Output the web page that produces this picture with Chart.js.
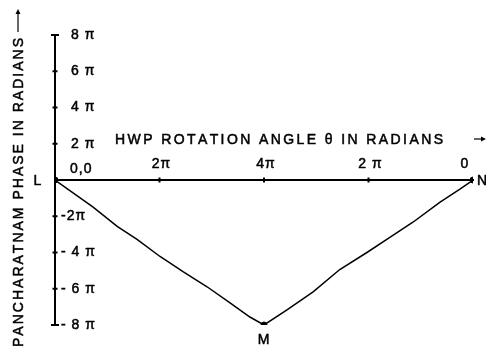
<!DOCTYPE html>
<html>
<head>
<meta charset="utf-8">
<script src="https://cdn.jsdelivr.net/npm/chart.js@4/dist/chart.umd.min.js"></script>
<style>
  html, body { margin: 0; padding: 0; background: #fff; }
  #wrap { width: 486px; height: 351px; }
</style>
</head>
<body>
<div id="wrap"><canvas id="myChart" width="486" height="351"></canvas></div>
<script>
// rotation angle and phase, both in units of pi
const theta = [0, 0.73, 1.19, 1.57, 2.01, 2.45, 2.91, 3.35, 3.73, 4, 4.44, 4.94, 5.45, 5.97, 6.35, 6.85, 7.37, 7.75, 8];
const phase = [0, -1.5, -2.56, -3.28, -4.22, -5.06, -5.89, -6.78, -7.56, -8, -7.17, -6.17, -4.94, -4.0, -3.28, -2.33, -1.22, -0.5, 0];

// named points on the curve
const pointNames = ['L', 'M', 'N'];
const pointTheta = [0, 4, 8];
const pointPhase = [0, -8, 0];

const yTickValues = [8, 6, 4, 2, -2, -4, -6, -8];
const yTickLabels = ['8 π', '6 π', '4 π', '2 π', '-2π', '- 4 π', '- 6 π', '- 8 π'];
const xTickValues = [2, 4, 6, 8];
const xTickLabels = ['2π', '4π', '2 π', '0'];

const xTitle = 'HWP ROTATION ANGLE θ IN RADIANS';
const yTitle = 'PANCHARATNAM PHASE IN RADIANS';

const FONT = '"Liberation Sans", Arial, sans-serif';

// fill plus a thin stroke so the lettering looks a little heavier
const heavyText = (ctx, text, x, y) => {
    ctx.fillText(text, x, y);
    ctx.strokeText(text, x, y);
}

// draw a string stretched over a given width by spreading the letters
const spacedText = (ctx, text, x0, x1, y) => {
    const widths = [...text].map(c => ctx.measureText(c).width);
    const total = widths.reduce((a, b) => a + b, 0);
    const gap = (x1 - x0 - total) / (text.length - 1);
    let x = x0;
    [...text].forEach((c, i) => {
        heavyText(ctx, c, x, y);
        x += widths[i] + gap;
    });
}

const axisDecor = {
    id: 'axisDecor',
    afterDraw(chart) {
        const ctx = chart.ctx;
        const xs = chart.scales.x;
        const ys = chart.scales.y;
        const x0 = xs.getPixelForValue(0);
        const y0 = ys.getPixelForValue(0);
        ctx.save();
        ctx.strokeStyle = '#000';
        ctx.fillStyle = '#000';
        ctx.lineWidth = 2;

        // tick crosses on the vertical axis
        ctx.beginPath();
        yTickValues.forEach(v => {
            const py = ys.getPixelForValue(v);
            const half = Math.abs(v) === 8 ? 4 : 2.5;
            ctx.moveTo(x0 - half, py);
            ctx.lineTo(x0 + half, py);
        });
        // tick crosses on the horizontal axis
        xTickValues.slice(0, 3).forEach(v => {
            const px = xs.getPixelForValue(v);
            ctx.moveTo(px, y0 - 2.5);
            ctx.lineTo(px, y0 + 2.5);
        });
        ctx.stroke();

        ctx.lineWidth = 0.5;
        ctx.font = '14px ' + FONT;
        ctx.textBaseline = 'middle';
        ctx.letterSpacing = '1px';
        ctx.textAlign = 'left';
        yTickValues.forEach((v, i) => {
            const py = ys.getPixelForValue(v);
            heavyText(ctx, yTickLabels[i], x0 + (v > 0 ? 16 : 6), py);
        });
        heavyText(ctx, '0,0', x0 + 15, y0 - 11);

        ctx.textAlign = 'center';
        xTickValues.forEach((v, i) => {
            const px = xs.getPixelForValue(v);
            heavyText(ctx, xTickLabels[i], px + (v === 8 ? -8 : 2), y0 - 16);
        });

        // point names
        heavyText(ctx, pointNames[0], xs.getPixelForValue(pointTheta[0]) - 17, ys.getPixelForValue(pointPhase[0]) + 1);
        heavyText(ctx, pointNames[1], xs.getPixelForValue(pointTheta[1]), ys.getPixelForValue(pointPhase[1]) + 15);
        ctx.textAlign = 'left';
        heavyText(ctx, pointNames[2], xs.getPixelForValue(pointTheta[2]) + 4, ys.getPixelForValue(pointPhase[2]) + 1);
        ctx.letterSpacing = '0px';

        // axis titles
        ctx.font = '14px ' + FONT;
        ctx.textAlign = 'left';
        spacedText(ctx, xTitle, 115, 443, 140);
        ctx.lineWidth = 1.2;
        ctx.beginPath();
        ctx.moveTo(474, 139);
        ctx.lineTo(482, 139);
        ctx.stroke();
        ctx.beginPath();
        ctx.moveTo(486, 139);
        ctx.lineTo(481, 136.5);
        ctx.lineTo(481, 141.5);
        ctx.closePath();
        ctx.fill();

        ctx.save();
        ctx.lineWidth = 0.5;
        ctx.translate(19, 347);
        ctx.rotate(-Math.PI / 2);
        spacedText(ctx, yTitle, 0, 309, 0);
        ctx.restore();
        ctx.beginPath();
        ctx.moveTo(18, 32);
        ctx.lineTo(18, 13);
        ctx.stroke();
        ctx.beginPath();
        ctx.moveTo(18, 9);
        ctx.lineTo(15.5, 14);
        ctx.lineTo(20.5, 14);
        ctx.closePath();
        ctx.fill();
        ctx.restore();
    }
}

const ctx = document.getElementById('myChart').getContext('2d');
const myChart = new Chart(ctx, {
    type: 'scatter',
    data: {
        datasets: [{
            data: theta.map((t, i) => ({ x: t, y: phase[i] })),
            showLine: true,
            borderColor: '#000',
            borderWidth: 1.5,
            tension: 0,
            pointRadius: 0
        }, {
            data: pointTheta.map((t, i) => ({ x: t, y: pointPhase[i] })),
            showLine: false,
            pointRadius: 3,
            pointBackgroundColor: '#000',
            pointBorderColor: '#000'
        }]
    },
    options: {
        responsive: false,
        animation: false,
        events: [],
        layout: { padding: { left: 55, right: 13, top: 35, bottom: 26 } },
        plugins: { legend: { display: false }, tooltip: { enabled: false } },
        scales: {
            x: {
                type: 'linear', min: 0, max: 8,
                position: { y: 0 },
                grid: { drawOnChartArea: false, drawTicks: false },
                border: { color: '#000', width: 2 },
                ticks: { display: false, stepSize: 2 }
            },
            y: {
                type: 'linear', min: -8, max: 8,
                position: { x: 0 },
                grid: { drawOnChartArea: false, drawTicks: false },
                border: { color: '#000', width: 2 },
                ticks: { display: false, stepSize: 2 }
            }
        }
    },
    plugins: [axisDecor]
});
</script>
</body>
</html>
